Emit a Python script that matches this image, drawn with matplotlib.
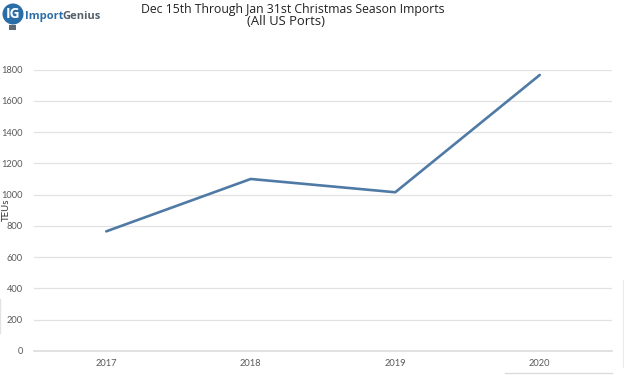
import matplotlib
matplotlib.use("Agg")
import matplotlib.pyplot as plt
from matplotlib.patches import Circle, Rectangle

years = ["2017", "2018", "2019", "2020"]
teus = [765, 1100, 1015, 1765]
yticks = [0, 200, 400, 600, 800, 1000, 1200, 1400, 1600, 1800]
title_line1 = "Dec 15th Through Jan 31st Christmas Season Imports"
title_line2 = "(All US Ports)"

W, H = 624, 375
fig = plt.figure(figsize=(W / 100, H / 100), dpi=100, facecolor="white")
ax = fig.add_axes([34 / W, 1 - 351 / H, (612 - 34) / W, (351 - 69.5) / H])
ax.plot(range(len(years)), teus, color="#4f7aa6", lw=1.9, solid_capstyle="round", zorder=3)
ax.set_xlim(-0.5, 3.5)
ax.set_ylim(0, 1800)
ax.set_xticks(range(len(years)), years)
ax.set_yticks(yticks)
ax.grid(axis="y", color="#e2e2e2", lw=0.9)
ax.set_axisbelow(True)
for s in ["top", "left", "right"]:
    ax.spines[s].set_visible(False)
ax.spines["bottom"].set_color("#dcdcdc")
ax.spines["bottom"].set_linewidth(1.2)
ax.tick_params(length=0, labelsize=6.7, labelcolor="#595959", pad=6)
ax.tick_params(axis="y", pad=8)
for lab in ax.get_xticklabels() + ax.get_yticklabels():
    lab.set_family("Lato")
ax.set_ylabel("TEUs", fontsize=7, family="Lato", color="#333333")
ax.yaxis.set_label_coords(-23 / (612 - 34), 0.503)

# title
fig.text(293 / W, 1 - 2.5 / H, title_line1, ha="center", va="top", fontsize=8.8,
         family="Open Sans", color="#222222")
fig.text(286 / W, 1 - 15 / H, title_line2, ha="center", va="top", fontsize=9.4,
         family="Open Sans", color="#222222")

# logo, drawn in pixel coordinates
ov = fig.add_axes([0, 0, 1, 1], facecolor="none")
ov.set_xlim(0, W)
ov.set_ylim(H, 0)
ov.axis("off")
ov.add_patch(Circle((13, 14), 10.5, fc="#2a6ea8", ec="none"))
ov.add_patch(Rectangle((9, 24.5), 7, 5.5, fc="#5f6a72", ec="none"))
ov.text(13, 14.5, "IG", ha="center", va="center", color="white", fontsize=10,
        family="Open Sans", weight="bold")
ov.text(25, 16.5, "Import", ha="left", va="center", color="#2a6ea8", fontsize=8,
        family="Open Sans", weight="bold")
ov.text(62, 16.5, "Genius", ha="left", va="center", color="#55606a", fontsize=8,
        family="Open Sans", weight="bold")
# screenshot remnants
ov.plot([0, 0], [299, 333], color="#e3e3e3", lw=1)
ov.plot([623, 623], [280, 367], color="#ececec", lw=1)
ov.plot([505, 612], [373, 373], color="#dcdcdc", lw=1)

fig.savefig("out.png", dpi=100)
